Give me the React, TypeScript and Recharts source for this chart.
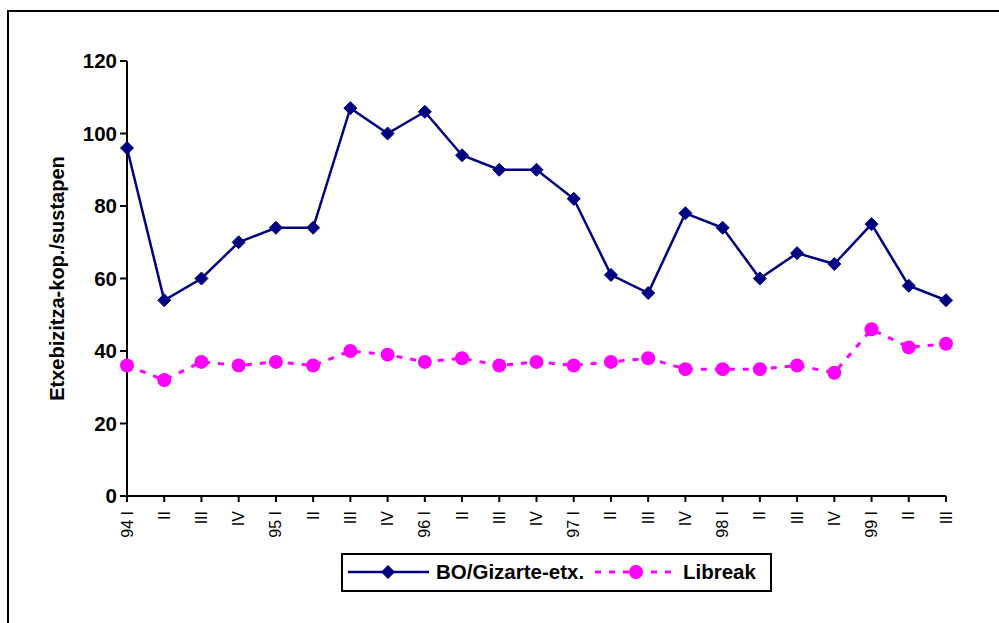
import React from "react";
import { LineChart, Line, XAxis, YAxis, Label } from "recharts";

// quarters 1994 I .. 1999 III
const quarters = [
  "94 I", "II", "III", "IV",
  "95 I", "II", "III", "IV",
  "96 I", "II", "III", "IV",
  "97 I", "II", "III", "IV",
  "98 I", "II", "III", "IV",
  "99 I", "II", "III",
];
const gizarte = [96, 54, 60, 70, 74, 74, 107, 100, 106, 94, 90, 90, 82, 61, 56, 78, 74, 60, 67, 64, 75, 58, 54];
const libreak = [36, 32, 37, 36, 37, 36, 40, 39, 37, 38, 36, 37, 36, 37, 38, 35, 35, 35, 36, 34, 46, 41, 42];
const yTicks = [0, 20, 40, 60, 80, 100, 120];

const data = quarters.map((q, i) => ({ idx: i, q, bo: gizarte[i], lib: libreak[i] }));

const NAVY = "#000080";
const PINK = "#FF00FF";
const FONT = "Arial, 'Liberation Sans', sans-serif";

const diamond = (cx: number, cy: number, r: number, key?: React.Key) => (
  <path
    key={key}
    d={`M${cx},${cy - r} L${cx + r},${cy} L${cx},${cy + r} L${cx - r},${cy} Z`}
    fill={NAVY}
    stroke={NAVY}
    strokeWidth={1}
  />
);

const renderDiamond = (p: any) => diamond(p.cx, p.cy, 6.5, `d-${p.index}`);

const renderCircle = (p: any) => (
  <circle key={`c-${p.index}`} cx={p.cx} cy={p.cy} r={7} fill={PINK} stroke="none" />
);

const QuarterTick = (props: any) => {
  const { x, y, payload } = props;
  return (
    <text
      transform={`translate(${x + 5.5},${y + 7}) rotate(-90)`}
      textAnchor="end"
      fontFamily={FONT}
      fontSize={16}
      fill="#000"
    >
      {quarters[payload.value]}
    </text>
  );
};

const AxisTitle = (props: any) => {
  const vb = props.viewBox;
  const cy = vb.y + vb.height / 2;
  return (
    <text
      transform={`translate(64,${cy}) rotate(-90)`}
      textAnchor="middle"
      fontFamily={FONT}
      fontSize={20}
      fontWeight="bold"
      fill="#000"
    >
      Etxebizitza-kop./sustapen
    </text>
  );
};

function LegendBox() {
  return (
    <div
      style={{
        position: "absolute",
        left: 341,
        top: 553,
        width: 427,
        height: 35,
        border: "2px solid #000",
        background: "#fff",
      }}
    >
      <svg width={427} height={35} style={{ position: "absolute", left: 0, top: 0 }}>
        <line x1={5} x2={86} y1={17} y2={17} stroke={NAVY} strokeWidth={2.5} />
        {diamond(45, 17, 6.5)}
        <text x={93} y={24} fontFamily={FONT} fontSize={20.5} fontWeight="bold" fill="#000">
          BO/Gizarte-etx.
        </text>
        <line x1={252} x2={335} y1={17} y2={17} stroke={PINK} strokeWidth={3} strokeDasharray="6 8" />
        <circle cx={293} cy={17} r={7} fill={PINK} />
        <text x={340} y={24} fontFamily={FONT} fontSize={20.5} fontWeight="bold" fill="#000">
          Libreak
        </text>
      </svg>
    </div>
  );
}

export default function App() {
  return (
    <div
      style={{
        position: "absolute",
        left: 0,
        top: 0,
        width: 999,
        height: 623,
        overflow: "hidden",
        background: "#fff",
      }}
    >
      {/* outer frame, runs off the right and bottom edges */}
      <div
        style={{
          position: "absolute",
          left: 7,
          top: 10,
          width: 1100,
          height: 800,
          border: "2px solid #000",
        }}
      />
      <div style={{ position: "absolute", left: 0, top: 0 }}>
        <LineChart width={999} height={623} data={data} margin={{ top: 61, right: 53, left: 0, bottom: 0 }}>
          <XAxis
            dataKey="idx"
            type="category"
            height={127}
            interval={0}
            tick={<QuarterTick />}
            tickSize={6}
            axisLine={{ stroke: "#000", strokeWidth: 2 }}
            tickLine={{ stroke: "#000", strokeWidth: 2 }}
          />
          <YAxis
            width={127}
            domain={[0, 120]}
            ticks={yTicks}
            interval={0}
            tickSize={7}
            tickMargin={3}
            axisLine={{ stroke: "#000", strokeWidth: 2 }}
            tickLine={{ stroke: "#000", strokeWidth: 2 }}
            tick={{ fontFamily: FONT, fontSize: 20.5, fontWeight: "bold", fill: "#000" }}
          >
            <Label content={<AxisTitle />} />
          </YAxis>
          <Line
            dataKey="lib"
            stroke={PINK}
            strokeWidth={3}
            strokeDasharray="6 8"
            dot={renderCircle}
            isAnimationActive={false}
          />
          <Line
            dataKey="bo"
            stroke={NAVY}
            strokeWidth={2.5}
            dot={renderDiamond}
            isAnimationActive={false}
          />
        </LineChart>
      </div>
      <LegendBox />
    </div>
  );
}
